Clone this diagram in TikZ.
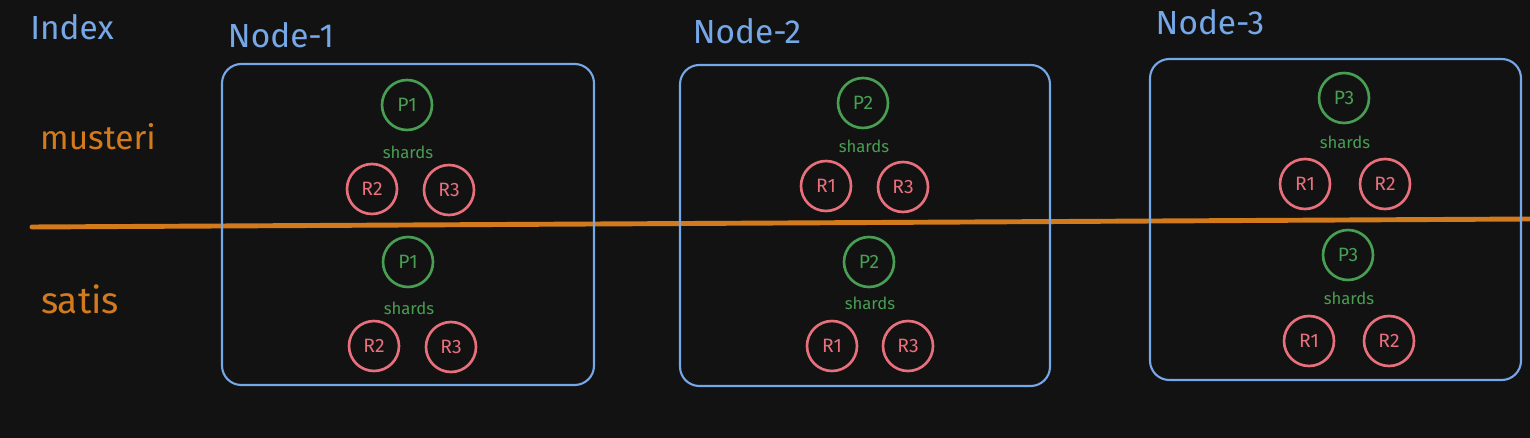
\documentclass[tikz,border=0pt]{standalone}
\usepackage{fontspec}
\setmainfont{Fira Sans}
\definecolor{bgc}{RGB}{18,18,18}
\definecolor{bluec}{RGB}{118,168,232}
\definecolor{orangec}{RGB}{210,122,28}
\definecolor{greenc}{RGB}{72,158,82}
\definecolor{redc}{RGB}{232,112,124}
\begin{document}
\begin{tikzpicture}[x=0.02cm,y=-0.02cm,
  title/.style={text=bluec,font=\fontsize{19}{21}\selectfont},
  idx/.style={text=orangec,font=\fontsize{19}{21}\selectfont},
  serverbox/.style={draw=bluec,line width=1.2pt,rounded corners=11pt},
  prim/.style={circle,draw=greenc,line width=1.5pt,minimum size=1cm,inner sep=0pt,text=greenc,font=\fontsize{11}{12}\selectfont},
  repl/.style={circle,draw=redc,line width=1.5pt,minimum size=1cm,inner sep=0pt,text=redc,font=\fontsize{11}{12}\selectfont},
  shardlbl/.style={text=greenc,font=\fontsize{9.5}{11}\selectfont}]
\fill[bgc] (0,0) rectangle (1530,438);
\useasboundingbox (0,0) rectangle (1530,438);
% titles
\node[title] (tidx) at (72,27) {Index};
\node[title] (tn1) at (281,35) {Node-1};
\node[title] (tn2) at (747,31) {Node-2};
\node[title] (tn3) at (1210,22) {Node-3};
\node[idx] (imus) at (98,137) {musteri};
\node[idx,font=\fontsize{21}{23}\selectfont] (isat) at (80,299) {satis};
% separator line
\coordinate (ls) at (32,227);
\coordinate (le) at (1530,219);
\draw[orangec,line width=2.8pt,line cap=round] (ls) -- (le);
% node boxes
\draw[serverbox] (222,64) rectangle (594,385);
\draw[serverbox] (680,65) rectangle (1050,386);
\draw[serverbox] (1150,59) rectangle (1521,380);
% Node-1
\node[prim] (a1p) at (407,105) {P1};
\node[shardlbl] (a1s) at (408,152) {shards};
\node[repl] (a1r2) at (372,189) {R2};
\node[repl] (a1r3) at (449,190) {R3};
\node[prim] (b1p) at (408,262) {P1};
\node[shardlbl] (b1s) at (409,308) {shards};
\node[repl] (b1r2) at (374,346) {R2};
\node[repl] (b1r3) at (451,347) {R3};
% Node-2
\node[prim] (a2p) at (863,103) {P2};
\node[shardlbl] (a2s) at (864,146) {shards};
\node[repl] (a2r1) at (826,186) {R1};
\node[repl] (a2r3) at (903,187) {R3};
\node[prim] (b2p) at (869,262) {P2};
\node[shardlbl] (b2s) at (870,303) {shards};
\node[repl] (b2r1) at (832,346) {R1};
\node[repl] (b2r3) at (908,346) {R3};
% Node-3
\node[prim] (a3p) at (1344,98) {P3};
\node[shardlbl] (a3s) at (1345,142) {shards};
\node[repl] (a3r1) at (1305,184) {R1};
\node[repl] (a3r2) at (1385,184) {R2};
\node[prim] (b3p) at (1348,255) {P3};
\node[shardlbl] (b3s) at (1349,298) {shards};
\node[repl] (b3r1) at (1309,341) {R1};
\node[repl] (b3r2) at (1389,341) {R2};
\end{tikzpicture}
\end{document}
